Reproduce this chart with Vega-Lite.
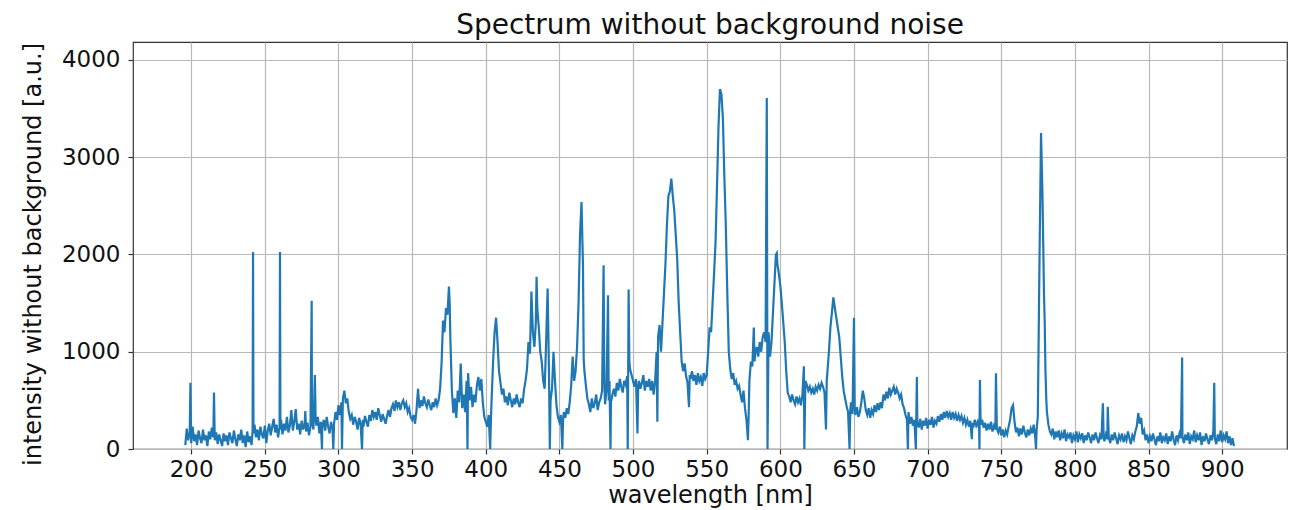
{
"$schema": "https://vega.github.io/schema/vega-lite/v6.json",
"width": 1154, "height": 407,
"autosize": {"type": "none"},
"padding": {"left": 133, "top": 42, "right": 9, "bottom": 61},
"background": "white",
"title": {"text": "Spectrum without background noise", "font": "DejaVu Sans", "fontSize": 28, "fontWeight": "normal", "color": "#111", "offset": 2},
"config": {
  "view": {"stroke": "#333", "strokeWidth": 1.2},
  "axis": {"labelFont": "DejaVu Sans", "titleFont": "DejaVu Sans", "labelFontSize": 23, "titleFontSize": 24, "titleFontWeight": "normal", "labelColor": "#111", "titleColor": "#111", "domain": false, "tickColor": "#333", "tickSize": 5, "tickWidth": 1.2, "gridColor": "#b8b8b8", "gridWidth": 1.2}
},
"data": {"values": [
{"wavelength":196,"intensity":40},{"wavelength":197,"intensity":210},{"wavelength":198,"intensity":90},{"wavelength":199,"intensity":170},{"wavelength":199.5,"intensity":680},{"wavelength":200,"intensity":60},
{"wavelength":201,"intensity":230},{"wavelength":202,"intensity":80},{"wavelength":203,"intensity":150},{"wavelength":204,"intensity":40},{"wavelength":205,"intensity":190},{"wavelength":206,"intensity":110},{"wavelength":207,"intensity":60},{"wavelength":208,"intensity":200},{"wavelength":209,"intensity":90},{"wavelength":210,"intensity":140},
{"wavelength":211,"intensity":30},{"wavelength":212,"intensity":180},{"wavelength":213,"intensity":100},{"wavelength":214,"intensity":220},{"wavelength":215,"intensity":120},{"wavelength":215.5,"intensity":580},{"wavelength":216,"intensity":90},{"wavelength":217,"intensity":170},{"wavelength":218,"intensity":50},{"wavelength":219,"intensity":150},{"wavelength":220,"intensity":90},
{"wavelength":221,"intensity":30},{"wavelength":222,"intensity":160},{"wavelength":223,"intensity":80},{"wavelength":224,"intensity":140},{"wavelength":225,"intensity":40},{"wavelength":226,"intensity":170},{"wavelength":227,"intensity":110},{"wavelength":228,"intensity":60},{"wavelength":229,"intensity":190},{"wavelength":230,"intensity":100},
{"wavelength":231,"intensity":30},{"wavelength":232,"intensity":150},{"wavelength":233,"intensity":90},{"wavelength":234,"intensity":200},{"wavelength":235,"intensity":60},{"wavelength":236,"intensity":140},{"wavelength":237,"intensity":20},{"wavelength":238,"intensity":180},{"wavelength":239,"intensity":70},{"wavelength":240,"intensity":130},
{"wavelength":241,"intensity":40},{"wavelength":241.7,"intensity":180},{"wavelength":242,"intensity":2025},{"wavelength":242.3,"intensity":160},{"wavelength":243,"intensity":250},{"wavelength":244,"intensity":120},{"wavelength":245,"intensity":200},{"wavelength":246,"intensity":90},{"wavelength":247,"intensity":230},{"wavelength":248,"intensity":150},{"wavelength":249,"intensity":110},{"wavelength":250,"intensity":240},
{"wavelength":251,"intensity":60},{"wavelength":252,"intensity":190},{"wavelength":253,"intensity":260},{"wavelength":254,"intensity":140},{"wavelength":255,"intensity":230},{"wavelength":256,"intensity":310},{"wavelength":257,"intensity":170},{"wavelength":258,"intensity":250},{"wavelength":259,"intensity":120},{"wavelength":260,"intensity":220},{"wavelength":260.3,"intensity":2025},{"wavelength":260.6,"intensity":200},
{"wavelength":261,"intensity":300},{"wavelength":262,"intensity":150},{"wavelength":263,"intensity":260},{"wavelength":264,"intensity":190},{"wavelength":265,"intensity":330},{"wavelength":266,"intensity":170},{"wavelength":267,"intensity":240},{"wavelength":268,"intensity":400},{"wavelength":269,"intensity":190},{"wavelength":270,"intensity":280},
{"wavelength":271,"intensity":410},{"wavelength":272,"intensity":200},{"wavelength":273,"intensity":260},{"wavelength":274,"intensity":150},{"wavelength":275,"intensity":290},{"wavelength":276,"intensity":200},{"wavelength":277,"intensity":250},{"wavelength":277.5,"intensity":390},{"wavelength":278,"intensity":180},{"wavelength":279,"intensity":270},{"wavelength":280,"intensity":140},
{"wavelength":281,"intensity":230},{"wavelength":281.8,"intensity":1525},{"wavelength":282,"intensity":280},{"wavelength":283,"intensity":200},{"wavelength":284,"intensity":760},{"wavelength":284.5,"intensity":300},{"wavelength":285,"intensity":240},{"wavelength":286,"intensity":330},{"wavelength":287,"intensity":160},{"wavelength":288,"intensity":280},{"wavelength":288.8,"intensity":0},{"wavelength":289,"intensity":220},{"wavelength":290,"intensity":300},
{"wavelength":291,"intensity":190},{"wavelength":292,"intensity":330},{"wavelength":293,"intensity":230},{"wavelength":294,"intensity":160},{"wavelength":295,"intensity":280},{"wavelength":296,"intensity":200},{"wavelength":296.5,"intensity":0},{"wavelength":297,"intensity":260},{"wavelength":298,"intensity":380},{"wavelength":299,"intensity":300},{"wavelength":300,"intensity":450},
{"wavelength":301,"intensity":350},{"wavelength":302,"intensity":480},{"wavelength":302.4,"intensity":0},{"wavelength":303,"intensity":520},{"wavelength":304,"intensity":600},{"wavelength":305,"intensity":470},{"wavelength":306,"intensity":520},{"wavelength":307,"intensity":380},{"wavelength":308,"intensity":310},{"wavelength":309,"intensity":350},{"wavelength":310,"intensity":250},
{"wavelength":311,"intensity":330},{"wavelength":312,"intensity":280},{"wavelength":313,"intensity":200},{"wavelength":314,"intensity":320},{"wavelength":315,"intensity":260},{"wavelength":316,"intensity":0},{"wavelength":316.5,"intensity":300},{"wavelength":317,"intensity":230},{"wavelength":318,"intensity":340},{"wavelength":319,"intensity":280},{"wavelength":320,"intensity":230},
{"wavelength":321,"intensity":350},{"wavelength":322,"intensity":290},{"wavelength":323,"intensity":400},{"wavelength":324,"intensity":330},{"wavelength":325,"intensity":380},{"wavelength":326,"intensity":300},{"wavelength":327,"intensity":420},{"wavelength":328,"intensity":350},{"wavelength":329,"intensity":280},{"wavelength":330,"intensity":360},
{"wavelength":331,"intensity":310},{"wavelength":332,"intensity":260},{"wavelength":333,"intensity":340},{"wavelength":334,"intensity":400},{"wavelength":335,"intensity":330},{"wavelength":336,"intensity":420},{"wavelength":337,"intensity":460},{"wavelength":338,"intensity":390},{"wavelength":339,"intensity":500},{"wavelength":340,"intensity":430},
{"wavelength":341,"intensity":480},{"wavelength":342,"intensity":400},{"wavelength":343,"intensity":470},{"wavelength":344,"intensity":500},{"wavelength":345,"intensity":430},{"wavelength":346,"intensity":470},{"wavelength":347,"intensity":380},{"wavelength":348,"intensity":420},{"wavelength":349,"intensity":330},{"wavelength":350,"intensity":300},
{"wavelength":351,"intensity":350},{"wavelength":352,"intensity":260},{"wavelength":353,"intensity":400},{"wavelength":354,"intensity":620},{"wavelength":355,"intensity":420},{"wavelength":356,"intensity":500},{"wavelength":357,"intensity":440},{"wavelength":358,"intensity":540},{"wavelength":359,"intensity":470},{"wavelength":360,"intensity":430},
{"wavelength":361,"intensity":510},{"wavelength":362,"intensity":450},{"wavelength":363,"intensity":400},{"wavelength":364,"intensity":480},{"wavelength":365,"intensity":430},{"wavelength":366,"intensity":520},{"wavelength":367,"intensity":450},{"wavelength":368,"intensity":500},{"wavelength":369,"intensity":620},{"wavelength":370,"intensity":880},
{"wavelength":371,"intensity":1320},{"wavelength":372,"intensity":1200},{"wavelength":373,"intensity":1450},{"wavelength":374,"intensity":1380},{"wavelength":375,"intensity":1670},{"wavelength":375.5,"intensity":1500},{"wavelength":376,"intensity":1120},{"wavelength":377,"intensity":600},{"wavelength":378,"intensity":370},{"wavelength":379,"intensity":520},{"wavelength":380,"intensity":320},
{"wavelength":381,"intensity":600},{"wavelength":382,"intensity":480},{"wavelength":383,"intensity":880},{"wavelength":384,"intensity":420},{"wavelength":385,"intensity":560},{"wavelength":386,"intensity":380},{"wavelength":387,"intensity":700},{"wavelength":387.6,"intensity":0},{"wavelength":388,"intensity":780},{"wavelength":389,"intensity":500},{"wavelength":390,"intensity":640},
{"wavelength":391,"intensity":430},{"wavelength":392,"intensity":560},{"wavelength":393,"intensity":480},{"wavelength":394,"intensity":660},{"wavelength":395,"intensity":740},{"wavelength":396,"intensity":600},{"wavelength":397,"intensity":720},{"wavelength":398,"intensity":480},{"wavelength":399,"intensity":330},{"wavelength":400,"intensity":280},
{"wavelength":401,"intensity":230},{"wavelength":402,"intensity":350},{"wavelength":403,"intensity":0},{"wavelength":403.5,"intensity":300},{"wavelength":404,"intensity":520},{"wavelength":405,"intensity":900},{"wavelength":406,"intensity":1200},{"wavelength":407,"intensity":1350},{"wavelength":408,"intensity":1100},{"wavelength":409,"intensity":800},{"wavelength":410,"intensity":680},
{"wavelength":411,"intensity":560},{"wavelength":412,"intensity":620},{"wavelength":413,"intensity":480},{"wavelength":414,"intensity":540},{"wavelength":415,"intensity":450},{"wavelength":416,"intensity":580},{"wavelength":417,"intensity":500},{"wavelength":418,"intensity":430},{"wavelength":419,"intensity":520},{"wavelength":420,"intensity":460},
{"wavelength":421,"intensity":560},{"wavelength":422,"intensity":480},{"wavelength":423,"intensity":430},{"wavelength":424,"intensity":520},{"wavelength":425,"intensity":470},{"wavelength":426,"intensity":610},{"wavelength":427,"intensity":700},{"wavelength":428,"intensity":820},{"wavelength":429,"intensity":1100},{"wavelength":430,"intensity":980},
{"wavelength":431,"intensity":1620},{"wavelength":432,"intensity":1200},{"wavelength":433,"intensity":1050},{"wavelength":434,"intensity":1300},{"wavelength":434.5,"intensity":1770},{"wavelength":435,"intensity":1450},{"wavelength":436,"intensity":1250},{"wavelength":437,"intensity":1000},{"wavelength":438,"intensity":900},{"wavelength":439,"intensity":700},{"wavelength":440,"intensity":620},
{"wavelength":441,"intensity":1100},{"wavelength":442,"intensity":1650},{"wavelength":442.5,"intensity":1200},{"wavelength":443,"intensity":700},{"wavelength":443.5,"intensity":0},{"wavelength":444,"intensity":500},{"wavelength":445,"intensity":620},{"wavelength":446,"intensity":1000},{"wavelength":447,"intensity":700},{"wavelength":448,"intensity":450},{"wavelength":449,"intensity":330},{"wavelength":450,"intensity":280},
{"wavelength":451,"intensity":350},{"wavelength":452,"intensity":0},{"wavelength":452.5,"intensity":300},{"wavelength":453,"intensity":380},{"wavelength":454,"intensity":320},{"wavelength":455,"intensity":420},{"wavelength":456,"intensity":360},{"wavelength":457,"intensity":480},{"wavelength":458,"intensity":650},{"wavelength":459,"intensity":950},{"wavelength":460,"intensity":700},
{"wavelength":461,"intensity":800},{"wavelength":462,"intensity":1050},{"wavelength":463,"intensity":1500},{"wavelength":464,"intensity":2200},{"wavelength":465,"intensity":2540},{"wavelength":466,"intensity":1900},{"wavelength":466.5,"intensity":920},{"wavelength":467,"intensity":800},{"wavelength":468,"intensity":650},{"wavelength":469,"intensity":520},{"wavelength":470,"intensity":460},
{"wavelength":471,"intensity":380},{"wavelength":472,"intensity":520},{"wavelength":473,"intensity":420},{"wavelength":474,"intensity":470},{"wavelength":475,"intensity":560},{"wavelength":476,"intensity":400},{"wavelength":477,"intensity":480},{"wavelength":478,"intensity":520},{"wavelength":479,"intensity":600},{"wavelength":480,"intensity":1890},
{"wavelength":480.5,"intensity":700},{"wavelength":481,"intensity":460},{"wavelength":482,"intensity":600},{"wavelength":483,"intensity":1580},{"wavelength":483.5,"intensity":500},{"wavelength":484,"intensity":700},{"wavelength":484.7,"intensity":0},{"wavelength":485,"intensity":480},{"wavelength":486,"intensity":560},{"wavelength":487,"intensity":620},{"wavelength":488,"intensity":540},{"wavelength":489,"intensity":680},{"wavelength":490,"intensity":600},
{"wavelength":491,"intensity":720},{"wavelength":492,"intensity":640},{"wavelength":493,"intensity":580},{"wavelength":494,"intensity":700},{"wavelength":495,"intensity":660},{"wavelength":496,"intensity":750},{"wavelength":496.4,"intensity":0},{"wavelength":497,"intensity":1640},{"wavelength":497.5,"intensity":900},{"wavelength":498,"intensity":820},{"wavelength":499,"intensity":760},{"wavelength":500,"intensity":700},
{"wavelength":501,"intensity":640},{"wavelength":502,"intensity":720},{"wavelength":503,"intensity":160},{"wavelength":503.5,"intensity":650},{"wavelength":504,"intensity":700},{"wavelength":505,"intensity":620},{"wavelength":506,"intensity":680},{"wavelength":507,"intensity":760},{"wavelength":508,"intensity":600},{"wavelength":509,"intensity":700},{"wavelength":510,"intensity":640},
{"wavelength":511,"intensity":720},{"wavelength":512,"intensity":600},{"wavelength":513,"intensity":700},{"wavelength":514,"intensity":560},{"wavelength":515,"intensity":700},{"wavelength":516,"intensity":1000},{"wavelength":516.5,"intensity":280},{"wavelength":517,"intensity":1150},{"wavelength":518,"intensity":1275},{"wavelength":519,"intensity":1000},{"wavelength":520,"intensity":1300},
{"wavelength":521,"intensity":1600},{"wavelength":522,"intensity":1900},{"wavelength":523,"intensity":2300},{"wavelength":524,"intensity":2600},{"wavelength":525,"intensity":2650},{"wavelength":526,"intensity":2780},{"wavelength":527,"intensity":2600},{"wavelength":528,"intensity":2450},{"wavelength":529,"intensity":2200},{"wavelength":530,"intensity":1950},
{"wavelength":531,"intensity":1500},{"wavelength":532,"intensity":1200},{"wavelength":533,"intensity":900},{"wavelength":534,"intensity":800},{"wavelength":535,"intensity":880},{"wavelength":536,"intensity":750},{"wavelength":537,"intensity":680},{"wavelength":538,"intensity":430},{"wavelength":538.5,"intensity":760},{"wavelength":539,"intensity":720},{"wavelength":540,"intensity":800},
{"wavelength":541,"intensity":700},{"wavelength":542,"intensity":760},{"wavelength":543,"intensity":660},{"wavelength":544,"intensity":780},{"wavelength":545,"intensity":700},{"wavelength":546,"intensity":740},{"wavelength":547,"intensity":650},{"wavelength":548,"intensity":780},{"wavelength":549,"intensity":720},{"wavelength":550,"intensity":760},
{"wavelength":551,"intensity":1000},{"wavelength":552,"intensity":1250},{"wavelength":553,"intensity":1200},{"wavelength":554,"intensity":1500},{"wavelength":555,"intensity":1800},{"wavelength":556,"intensity":2120},{"wavelength":557,"intensity":2700},{"wavelength":558,"intensity":3300},{"wavelength":559,"intensity":3700},{"wavelength":560,"intensity":3650},
{"wavelength":561,"intensity":3400},{"wavelength":562,"intensity":2800},{"wavelength":563,"intensity":2290},{"wavelength":564,"intensity":1600},{"wavelength":565,"intensity":1000},{"wavelength":566,"intensity":820},{"wavelength":567,"intensity":720},{"wavelength":568,"intensity":780},{"wavelength":569,"intensity":660},{"wavelength":570,"intensity":700},
{"wavelength":571,"intensity":620},{"wavelength":572,"intensity":650},{"wavelength":573,"intensity":560},{"wavelength":574,"intensity":480},{"wavelength":575,"intensity":600},{"wavelength":576,"intensity":420},{"wavelength":577,"intensity":300},{"wavelength":578,"intensity":90},{"wavelength":578.5,"intensity":350},{"wavelength":579,"intensity":700},{"wavelength":580,"intensity":900},
{"wavelength":581,"intensity":850},{"wavelength":582,"intensity":1250},{"wavelength":582.5,"intensity":900},{"wavelength":583,"intensity":980},{"wavelength":584,"intensity":1050},{"wavelength":585,"intensity":950},{"wavelength":586,"intensity":1100},{"wavelength":587,"intensity":1000},{"wavelength":588,"intensity":1150},{"wavelength":589,"intensity":1200},{"wavelength":590,"intensity":1100},
{"wavelength":590.8,"intensity":3610},{"wavelength":591.3,"intensity":0},{"wavelength":592,"intensity":1200},{"wavelength":593,"intensity":950},{"wavelength":594,"intensity":1100},{"wavelength":595,"intensity":1400},{"wavelength":596,"intensity":1700},{"wavelength":597,"intensity":2000},{"wavelength":597.6,"intensity":2015},{"wavelength":598,"intensity":1900},{"wavelength":599,"intensity":1800},{"wavelength":600,"intensity":1680},
{"wavelength":601,"intensity":1500},{"wavelength":602,"intensity":1300},{"wavelength":603,"intensity":1100},{"wavelength":604,"intensity":800},{"wavelength":605,"intensity":580},{"wavelength":606,"intensity":540},{"wavelength":607,"intensity":480},{"wavelength":608,"intensity":560},{"wavelength":609,"intensity":500},{"wavelength":610,"intensity":460},
{"wavelength":611,"intensity":540},{"wavelength":612,"intensity":480},{"wavelength":613,"intensity":520},{"wavelength":614,"intensity":450},{"wavelength":615,"intensity":560},{"wavelength":616,"intensity":850},{"wavelength":616.3,"intensity":0},{"wavelength":617,"intensity":700},{"wavelength":618,"intensity":660},{"wavelength":619,"intensity":600},{"wavelength":620,"intensity":640},
{"wavelength":621,"intensity":580},{"wavelength":622,"intensity":620},{"wavelength":623,"intensity":560},{"wavelength":624,"intensity":640},{"wavelength":625,"intensity":600},{"wavelength":626,"intensity":660},{"wavelength":627,"intensity":620},{"wavelength":628,"intensity":680},{"wavelength":629,"intensity":640},{"wavelength":630,"intensity":580},
{"wavelength":631,"intensity":200},{"wavelength":631.5,"intensity":700},{"wavelength":632,"intensity":800},{"wavelength":633,"intensity":1000},{"wavelength":634,"intensity":1250},{"wavelength":635,"intensity":1400},{"wavelength":636,"intensity":1560},{"wavelength":637,"intensity":1450},{"wavelength":638,"intensity":1350},{"wavelength":639,"intensity":1250},{"wavelength":640,"intensity":1150},
{"wavelength":641,"intensity":950},{"wavelength":642,"intensity":750},{"wavelength":643,"intensity":600},{"wavelength":644,"intensity":520},{"wavelength":645,"intensity":440},{"wavelength":646,"intensity":380},{"wavelength":647,"intensity":0},{"wavelength":647.5,"intensity":400},{"wavelength":648,"intensity":480},{"wavelength":649,"intensity":360},{"wavelength":650,"intensity":1350},
{"wavelength":650.5,"intensity":420},{"wavelength":651,"intensity":350},{"wavelength":652,"intensity":430},{"wavelength":653,"intensity":330},{"wavelength":654,"intensity":380},{"wavelength":655,"intensity":480},{"wavelength":656,"intensity":600},{"wavelength":657,"intensity":520},{"wavelength":658,"intensity":400},{"wavelength":659,"intensity":350},{"wavelength":660,"intensity":420},
{"wavelength":661,"intensity":320},{"wavelength":662,"intensity":400},{"wavelength":663,"intensity":360},{"wavelength":664,"intensity":450},{"wavelength":665,"intensity":380},{"wavelength":666,"intensity":470},{"wavelength":667,"intensity":400},{"wavelength":668,"intensity":480},{"wavelength":669,"intensity":420},{"wavelength":670,"intensity":560},
{"wavelength":671,"intensity":500},{"wavelength":672,"intensity":590},{"wavelength":673,"intensity":520},{"wavelength":674,"intensity":630},{"wavelength":675,"intensity":560},{"wavelength":676,"intensity":600},{"wavelength":677,"intensity":640},{"wavelength":678,"intensity":560},{"wavelength":679,"intensity":620},{"wavelength":680,"intensity":580},
{"wavelength":681,"intensity":520},{"wavelength":682,"intensity":560},{"wavelength":683,"intensity":460},{"wavelength":684,"intensity":420},{"wavelength":685,"intensity":350},{"wavelength":686,"intensity":300},{"wavelength":686.6,"intensity":0},{"wavelength":687,"intensity":380},{"wavelength":688,"intensity":260},{"wavelength":689,"intensity":330},{"wavelength":690,"intensity":240},
{"wavelength":691,"intensity":300},{"wavelength":692,"intensity":0},{"wavelength":692.7,"intensity":740},{"wavelength":693,"intensity":280},{"wavelength":694,"intensity":220},{"wavelength":695,"intensity":310},{"wavelength":696,"intensity":200},{"wavelength":697,"intensity":290},{"wavelength":698,"intensity":240},{"wavelength":699,"intensity":320},{"wavelength":700,"intensity":210},
{"wavelength":701,"intensity":300},{"wavelength":702,"intensity":250},{"wavelength":703,"intensity":330},{"wavelength":704,"intensity":220},{"wavelength":705,"intensity":290},{"wavelength":706,"intensity":260},{"wavelength":707,"intensity":340},{"wavelength":708,"intensity":280},{"wavelength":709,"intensity":360},{"wavelength":710,"intensity":300},
{"wavelength":711,"intensity":380},{"wavelength":712,"intensity":320},{"wavelength":713,"intensity":390},{"wavelength":714,"intensity":330},{"wavelength":715,"intensity":370},{"wavelength":716,"intensity":300},{"wavelength":717,"intensity":380},{"wavelength":718,"intensity":320},{"wavelength":719,"intensity":360},{"wavelength":720,"intensity":290},
{"wavelength":721,"intensity":350},{"wavelength":722,"intensity":300},{"wavelength":723,"intensity":340},{"wavelength":724,"intensity":270},{"wavelength":725,"intensity":320},{"wavelength":726,"intensity":250},{"wavelength":727,"intensity":300},{"wavelength":728,"intensity":230},{"wavelength":729,"intensity":290},{"wavelength":730,"intensity":100},
{"wavelength":730.5,"intensity":270},{"wavelength":731,"intensity":220},{"wavelength":732,"intensity":300},{"wavelength":733,"intensity":240},{"wavelength":734,"intensity":280},{"wavelength":735,"intensity":200},{"wavelength":735.2,"intensity":0},{"wavelength":735.5,"intensity":710},{"wavelength":736,"intensity":250},{"wavelength":737,"intensity":300},{"wavelength":738,"intensity":220},{"wavelength":739,"intensity":270},{"wavelength":740,"intensity":190},
{"wavelength":741,"intensity":260},{"wavelength":742,"intensity":200},{"wavelength":743,"intensity":280},{"wavelength":744,"intensity":180},{"wavelength":745,"intensity":240},{"wavelength":746,"intensity":200},{"wavelength":746.4,"intensity":780},{"wavelength":747,"intensity":210},{"wavelength":748,"intensity":170},{"wavelength":749,"intensity":230},{"wavelength":750,"intensity":140},
{"wavelength":751,"intensity":200},{"wavelength":752,"intensity":120},{"wavelength":753,"intensity":190},{"wavelength":754,"intensity":150},{"wavelength":755,"intensity":230},{"wavelength":756,"intensity":300},{"wavelength":757,"intensity":420},{"wavelength":758,"intensity":450},{"wavelength":759,"intensity":280},{"wavelength":760,"intensity":170},
{"wavelength":761,"intensity":220},{"wavelength":762,"intensity":130},{"wavelength":763,"intensity":210},{"wavelength":764,"intensity":150},{"wavelength":765,"intensity":240},{"wavelength":766,"intensity":170},{"wavelength":767,"intensity":120},{"wavelength":768,"intensity":200},{"wavelength":769,"intensity":140},{"wavelength":770,"intensity":210},
{"wavelength":771,"intensity":160},{"wavelength":772,"intensity":250},{"wavelength":773,"intensity":130},{"wavelength":773.6,"intensity":0},{"wavelength":774,"intensity":200},{"wavelength":774.8,"intensity":330},{"wavelength":775,"intensity":600},{"wavelength":776,"intensity":2000},{"wavelength":777,"intensity":3250},{"wavelength":778,"intensity":2600},{"wavelength":779,"intensity":1600},{"wavelength":779.5,"intensity":1300},{"wavelength":780,"intensity":800},
{"wavelength":780.6,"intensity":500},{"wavelength":781,"intensity":380},{"wavelength":782,"intensity":250},{"wavelength":783,"intensity":180},{"wavelength":784,"intensity":150},{"wavelength":785,"intensity":210},{"wavelength":786,"intensity":100},{"wavelength":787,"intensity":180},{"wavelength":788,"intensity":120},{"wavelength":789,"intensity":190},{"wavelength":790,"intensity":90},
{"wavelength":791,"intensity":160},{"wavelength":792,"intensity":110},{"wavelength":793,"intensity":200},{"wavelength":794,"intensity":80},{"wavelength":795,"intensity":150},{"wavelength":796,"intensity":120},{"wavelength":797,"intensity":170},{"wavelength":798,"intensity":60},{"wavelength":799,"intensity":140},{"wavelength":800,"intensity":100},
{"wavelength":801,"intensity":180},{"wavelength":802,"intensity":70},{"wavelength":803,"intensity":150},{"wavelength":804,"intensity":110},{"wavelength":805,"intensity":160},{"wavelength":806,"intensity":60},{"wavelength":807,"intensity":140},{"wavelength":808,"intensity":90},{"wavelength":809,"intensity":170},{"wavelength":810,"intensity":120},
{"wavelength":811,"intensity":60},{"wavelength":812,"intensity":150},{"wavelength":813,"intensity":90},{"wavelength":814,"intensity":170},{"wavelength":815,"intensity":110},{"wavelength":816,"intensity":60},{"wavelength":817,"intensity":140},{"wavelength":818,"intensity":100},{"wavelength":819,"intensity":470},{"wavelength":819.5,"intensity":130},{"wavelength":820,"intensity":80},
{"wavelength":821,"intensity":150},{"wavelength":822,"intensity":100},{"wavelength":822.3,"intensity":435},{"wavelength":823,"intensity":120},{"wavelength":824,"intensity":60},{"wavelength":825,"intensity":150},{"wavelength":826,"intensity":90},{"wavelength":827,"intensity":170},{"wavelength":828,"intensity":110},{"wavelength":829,"intensity":50},{"wavelength":830,"intensity":140},
{"wavelength":831,"intensity":100},{"wavelength":832,"intensity":160},{"wavelength":833,"intensity":70},{"wavelength":834,"intensity":130},{"wavelength":835,"intensity":90},{"wavelength":836,"intensity":180},{"wavelength":837,"intensity":110},{"wavelength":838,"intensity":50},{"wavelength":839,"intensity":140},{"wavelength":840,"intensity":100},
{"wavelength":841,"intensity":180},{"wavelength":842,"intensity":230},{"wavelength":843,"intensity":370},{"wavelength":844,"intensity":260},{"wavelength":845,"intensity":320},{"wavelength":846,"intensity":150},{"wavelength":847,"intensity":190},{"wavelength":848,"intensity":90},{"wavelength":849,"intensity":150},{"wavelength":850,"intensity":60},
{"wavelength":851,"intensity":130},{"wavelength":852,"intensity":80},{"wavelength":853,"intensity":160},{"wavelength":854,"intensity":100},{"wavelength":855,"intensity":40},{"wavelength":856,"intensity":130},{"wavelength":857,"intensity":80},{"wavelength":858,"intensity":170},{"wavelength":859,"intensity":60},{"wavelength":860,"intensity":120},
{"wavelength":861,"intensity":90},{"wavelength":862,"intensity":160},{"wavelength":863,"intensity":50},{"wavelength":864,"intensity":130},{"wavelength":865,"intensity":80},{"wavelength":866,"intensity":180},{"wavelength":867,"intensity":100},{"wavelength":868,"intensity":40},{"wavelength":869,"intensity":140},{"wavelength":870,"intensity":90},
{"wavelength":871,"intensity":160},{"wavelength":872,"intensity":110},{"wavelength":872.8,"intensity":940},{"wavelength":873,"intensity":130},{"wavelength":874,"intensity":60},{"wavelength":875,"intensity":150},{"wavelength":876,"intensity":90},{"wavelength":877,"intensity":170},{"wavelength":878,"intensity":50},{"wavelength":879,"intensity":130},{"wavelength":880,"intensity":100},
{"wavelength":881,"intensity":190},{"wavelength":882,"intensity":70},{"wavelength":883,"intensity":140},{"wavelength":884,"intensity":90},{"wavelength":885,"intensity":170},{"wavelength":886,"intensity":40},{"wavelength":887,"intensity":130},{"wavelength":888,"intensity":80},{"wavelength":889,"intensity":160},{"wavelength":890,"intensity":100},
{"wavelength":891,"intensity":50},{"wavelength":892,"intensity":140},{"wavelength":893,"intensity":90},{"wavelength":894,"intensity":180},{"wavelength":894.6,"intensity":680},{"wavelength":895,"intensity":110},{"wavelength":896,"intensity":50},{"wavelength":897,"intensity":150},{"wavelength":898,"intensity":80},{"wavelength":899,"intensity":190},{"wavelength":900,"intensity":70},
{"wavelength":901,"intensity":140},{"wavelength":902,"intensity":100},{"wavelength":903,"intensity":180},{"wavelength":904,"intensity":60},{"wavelength":905,"intensity":130},{"wavelength":906,"intensity":40},{"wavelength":907,"intensity":110},{"wavelength":908,"intensity":30}
]},
"mark": {"type": "line", "color": "#1f77b4", "strokeWidth": 2.2, "clip": true},
"encoding": {
  "x": {"field": "wavelength", "type": "quantitative", "scale": {"domain": [160.5, 944], "nice": false, "zero": false},
        "axis": {"title": "wavelength [nm]", "format": "d", "values": [200,250,300,350,400,450,500,550,600,650,700,750,800,850,900], "labelPadding": 4, "titlePadding": 2, "labelFlush": false}},
  "y": {"field": "intensity", "type": "quantitative", "scale": {"domain": [0, 4185], "nice": false},
        "axis": {"title": "intensity without background [a.u.]", "format": "d", "values": [0,1000,2000,3000,4000], "labelPadding": 8, "titlePadding": 16, "titleY": 212, "labelFlush": false}}
}
}
